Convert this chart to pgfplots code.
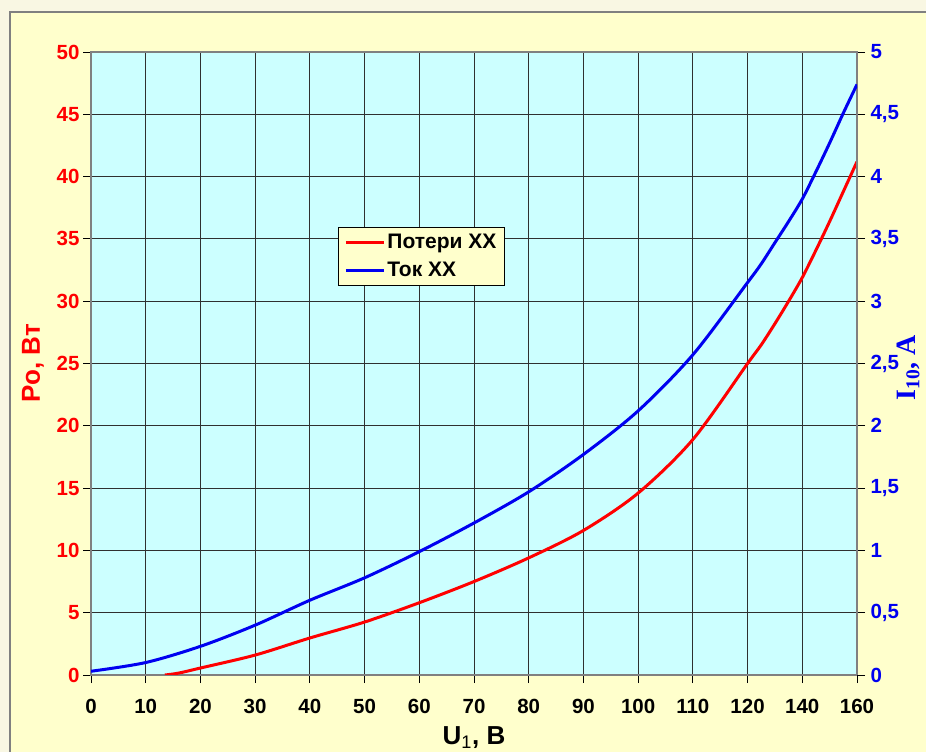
\documentclass[border=0pt]{standalone}
\usepackage{pgfplots}
\pgfplotsset{compat=1.18}
\usepackage{fontspec}
\setmainfont{Liberation Sans}
\newfontfamily\serifb{Liberation Serif}
\definecolor{pagebg}{HTML}{F9F7E3}
\definecolor{chartbg}{HTML}{FFFFCC}
\definecolor{plotbg}{HTML}{CCFFFF}
\definecolor{framegray}{HTML}{808080}
\definecolor{gridc}{HTML}{303030}
\definecolor{cred}{HTML}{FF0000}
\definecolor{cblue}{HTML}{0000F0}
\newcommand{\tickfont}{\fontsize{20.5}{20.5}\selectfont\bfseries}
\begin{document}
\begin{tikzpicture}[x=1pt,y=1pt]
\useasboundingbox (0,0) rectangle (926,752);
\fill[pagebg] (0,0) rectangle (926,752);
\draw[fill=chartbg, draw=framegray, line width=1.5pt] (10,-10) rectangle (945,740);
\begin{axis}[
  at={(91pt,77pt)}, anchor=south west,
  width=766pt, height=623pt, scale only axis,
  xmin=0, xmax=14, ymin=0, ymax=50,
  xtick={0,...,14},
  xticklabels={0,10,20,30,40,50,60,70,80,90,100,110,120,140,160},
  ytick={0,5,...,50},
  grid=major,
  major grid style={gridc, line width=0.9pt},
  axis background/.style={fill=plotbg},
  axis line style={framegray, line width=1.5pt},
  tick align=outside, xtick pos=bottom, ytick pos=left,
  major tick length=8pt,
  tick style={black, line width=0.9pt},
  /pgf/number format/assume math mode=true,
  xticklabel style={font=\tickfont, text=black, yshift=-13pt},
  yticklabel style={font=\tickfont, text=cred},
  xlabel={\bfseries U\textsubscript{\mdseries 1}, В},
  xlabel style={font=\fontsize{26}{26}\selectfont, yshift=-6pt},
  ylabel={\bfseries Po, Вт},
  ylabel style={font=\fontsize{26}{26}\selectfont, text=cred, yshift=6pt},
  legend style={at={(0.3225,0.719)}, anchor=north west, fill=chartbg, draw=black, line width=0.8pt,
     font=\fontsize{21}{21}\selectfont\bfseries, inner xsep=6pt, inner ysep=5pt, row sep=8pt},
  legend cell align=left,
  legend image code/.code={\draw[#1, line width=3pt] (0pt,0pt) -- (38pt,0pt);},
]
\addplot[cred, line width=3pt, smooth, tension=0.5] coordinates {
(1.35,0) (1.6,0.15) (2,0.56) (3,1.6) (4,2.97) (5,4.25) (6,5.8) (7,7.5) (8,9.4) (9,11.6) (10,14.6) (11,18.9) (12,25.0) (12.25,26.5) (12.5,28.2) (12.75,30.0) (13,31.9) (13.25,34.1) (13.5,36.4) (13.75,38.8) (14,41.2)
};
\addlegendentry{Потери ХХ}
\addlegendimage{cblue, line width=3pt}
\addlegendentry{Ток ХХ}
\end{axis}
\begin{axis}[
  at={(91pt,77pt)}, anchor=south west,
  width=766pt, height=623pt, scale only axis,
  xmin=0, xmax=14, ymin=0, ymax=5,
  axis x line=none, axis y line*=right,
  ytick={0,0.5,...,5},
  axis line style={framegray, line width=1.5pt},
  tick align=outside, major tick length=8pt,
  tick style={black, line width=0.9pt},
  /pgf/number format/.cd, use comma, 1000 sep={}, assume math mode=true,
  /pgfplots/.cd,
  yticklabel style={font=\tickfont, text=cblue, xshift=2pt},
]
\addplot[cblue, line width=3pt, smooth, tension=0.5] coordinates {
(0,0.03) (1,0.10) (2,0.23) (3,0.40) (4,0.60) (5,0.78) (6,0.99) (7,1.22) (8,1.47) (9,1.77) (10,2.12) (11,2.57) (12,3.15) (12.25,3.30) (12.5,3.47) (12.75,3.64) (13,3.82) (13.25,4.04) (13.5,4.27) (13.75,4.51) (14,4.74)
};
\end{axis}
\node[rotate=90, anchor=base, text=cblue, font=\serifb\fontsize{28}{28}\selectfont\bfseries] at (915,384) {I\textsubscript{10}, A};
\end{tikzpicture}
\end{document}
